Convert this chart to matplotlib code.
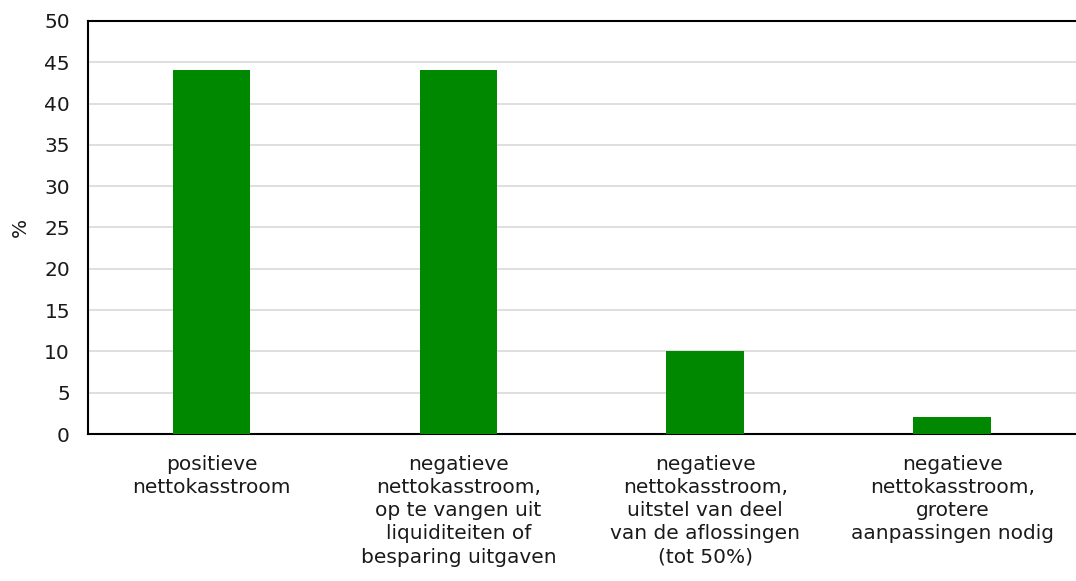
import matplotlib
matplotlib.use("Agg")
import matplotlib.pyplot as plt
import numpy as np

# categorieën en waarden (%)
categories = [
    "positieve\nnettokasstroom",
    "negatieve\nnettokasstroom,\nop te vangen uit\nliquiditeiten of\nbesparing uitgaven",
    "negatieve\nnettokasstroom,\nuitstel van deel\nvan de aflossingen\n(tot 50%)",
    "negatieve\nnettokasstroom,\ngrotere\naanpassingen nodig",
]
values = [44, 44, 10, 2]
yticks = [0, 5, 10, 15, 20, 25, 30, 35, 40, 45, 50]

plt.rcParams['font.family'] = ['DejaVu Sans']

fig = plt.figure(figsize=(10.76, 5.81), dpi=100)
ax = fig.add_axes([0.0818, 0.253, 0.918, 0.711])

x = np.arange(len(categories))
ax.bar(x, values, width=0.315, color="#008800", zorder=3)

ax.set_xlim(-0.5, len(categories) - 0.5)
ax.set_ylim(0, 50)
ax.set_yticks(yticks)
ax.set_xticks(x)
ax.set_xticklabels(categories, fontsize=14.5, color="#1a1a1a", linespacing=1.28)
ax.tick_params(axis="y", labelsize=14.5, length=0, pad=13, colors="#1a1a1a")
ax.tick_params(axis="x", length=0, pad=15)
ax.set_ylabel("%", fontsize=14.5, color="#1a1a1a", labelpad=10)

ax.grid(axis="y", color="#d9d9d9", linewidth=1.2, zorder=0)
for side in ["left", "bottom", "top"]:
    ax.spines[side].set_color("black")
    ax.spines[side].set_linewidth(1.5)
ax.spines["right"].set_visible(False)

fig.savefig("out.png", dpi=100)
